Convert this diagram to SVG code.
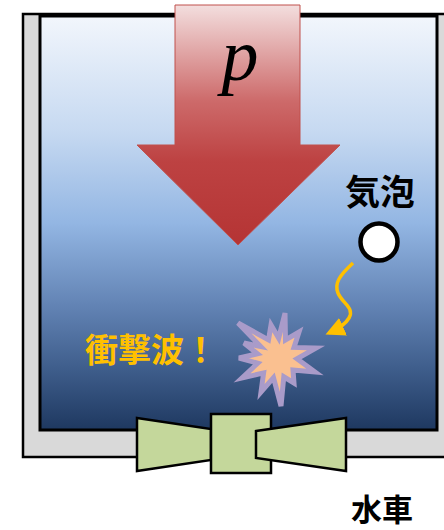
<svg xmlns="http://www.w3.org/2000/svg" width="444" height="530" viewBox="0 0 444 530">
  <defs>
    <linearGradient id="water" x1="0" y1="0" x2="0" y2="1">
      <stop offset="0" stop-color="#f2f6fc"/>
      <stop offset="0.28" stop-color="#c6d9f1"/>
      <stop offset="0.5" stop-color="#93b6e3"/>
      <stop offset="0.7" stop-color="#6283b4"/>
      <stop offset="0.85" stop-color="#3f5e8c"/>
      <stop offset="1" stop-color="#1e3860"/>
    </linearGradient>
    <linearGradient id="press" gradientUnits="userSpaceOnUse" x1="0" y1="5" x2="0" y2="245">
      <stop offset="0" stop-color="#f3dede"/>
      <stop offset="0.4" stop-color="#cd6a6a"/>
      <stop offset="0.65" stop-color="#bd4242"/>
      <stop offset="1" stop-color="#b53434"/>
    </linearGradient>
    <marker id="head" viewBox="0 0 10 10" refX="8" refY="5" markerWidth="5.5" markerHeight="5.5" orient="auto" markerUnits="strokeWidth">
      <path d="M0,0 L10,5 L0,10 z" fill="#ffc000"/>
    </marker>
    <style>
      .jp { font-family: "Noto Sans CJK JP", "Noto Sans", sans-serif; font-weight: bold; }
      .turbine { fill: #c4d79b; stroke: #000; stroke-width: 2.5; stroke-linejoin: miter; }
    </style>
  </defs>

  <!-- tank frame and water -->
  <g id="tank">
    <rect x="23" y="14" width="440" height="443" fill="#d9d9d9" stroke="#000" stroke-width="2.5"/>
    <rect x="40" y="16" width="397" height="414" fill="url(#water)" stroke="#000" stroke-width="3"/>
  </g>

  <!-- pressure arrow -->
  <g id="pressure">
    <polygon points="175,5 300,5 300,145 340,145 238,245 137,145 175,145" fill="url(#press)" stroke="#c0504d" stroke-width="1"/>
    <text x="240" y="80" text-anchor="middle" font-family="Liberation Serif, serif" font-style="italic" font-size="74" fill="#000">p</text>
  </g>

  <!-- bubble -->
  <g id="bubble">
    <text x="380" y="205" text-anchor="middle" class="jp" font-size="35" fill="#000">気泡</text>
    <circle cx="379" cy="242" r="18.5" fill="#fff" stroke="#000" stroke-width="4.5"/>
  </g>

  <!-- shock wave -->
  <g id="shock">
    <polygon points="285,313 285.5,340 299,332 294,347.4 316,348 297,358.7 315,372 293,370 294,383 283.8,376.8 281,406 273.5,377.7 261,392 263.6,372.9 242,378 257.7,363.2 239,358 257.4,353.8 244,343 260.6,346.5 238,323 268.5,339.9 271,325 278.7,338.1" fill="#fac090" stroke="#a99bc9" stroke-width="5" stroke-linejoin="miter"/>
    <text x="151" y="362" text-anchor="middle" class="jp" font-size="33" fill="#ffc000">衝撃波！</text>
  </g>

  <!-- water turbine -->
  <g id="turbine">
    <polygon class="turbine" points="137,418 211,429 211,460 137,471"/>
    <rect class="turbine" x="211" y="414" width="60" height="59"/>
    <polygon class="turbine" points="256,431 346,418 346,471 256,458"/>
    <text x="382" y="521" text-anchor="middle" class="jp" font-size="31" fill="#000">水車</text>
  </g>

  <!-- connectors -->
  <g id="connectors">
    <path d="M353,263 C340,275 334,283 338,293 C342,303 355,308 349,318 C345,325 338,329 329,333" fill="none" stroke="#ffc000" stroke-width="3.5" marker-end="url(#head)"/>
  </g>
</svg>
